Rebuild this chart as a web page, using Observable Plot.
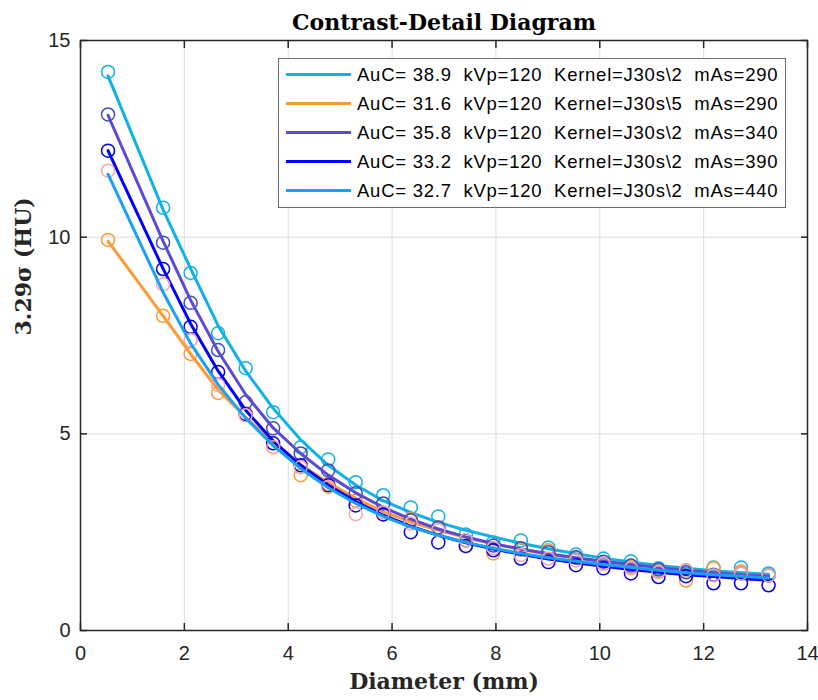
<!DOCTYPE html>
<html><head><meta charset="utf-8">
<script src="https://cdn.jsdelivr.net/npm/d3@7"></script>
<script src="https://cdn.jsdelivr.net/npm/@observablehq/plot@0.6"></script>
<style>
body{margin:0;background:#fff;}
#wrap{position:relative;width:818px;height:700px;}
#legend{position:absolute;left:278px;top:58px;width:506px;height:148px;border:1.5px solid #6e6e6e;background:#fff;font-family:"Liberation Sans",Arial,sans-serif;font-size:18.5px;letter-spacing:0.75px;color:#000;}
.row{position:absolute;left:0;height:29px;display:flex;align-items:center;white-space:pre;}
.sw{width:65px;height:3px;margin-left:7px;margin-right:6px;}
</style></head>
<body><div id="wrap"></div>
<script>
// Data
const diameters = [0.53,1.59,2.12,2.65,3.18,3.71,4.24,4.77,5.30,5.83,6.36,6.89,7.42,7.95,8.48,9.01,9.54,10.07,10.60,11.13,11.66,12.19,12.72,13.25];
const seriesLabels = [
  "AuC= 38.9  kVp=120  Kernel=J30s\\2  mAs=290",
  "AuC= 31.6  kVp=120  Kernel=J30s\\5  mAs=290",
  "AuC= 35.8  kVp=120  Kernel=J30s\\2  mAs=340",
  "AuC= 33.2  kVp=120  Kernel=J30s\\2  mAs=390",
  "AuC= 32.7  kVp=120  Kernel=J30s\\2  mAs=440"
];
const meas290 = [14.2,10.75,9.09,7.56,6.67,5.55,4.66,4.35,3.77,3.44,3.13,2.90,2.44,2.24,2.29,2.11,1.93,1.83,1.76,1.58,1.53,1.60,1.60,1.45];
const fit290  = [14.1,10.7,9.2,7.75,6.6,5.65,4.85,4.2,3.7,3.3,3.0,2.75,2.55,2.38,2.22,2.08,1.95,1.84,1.74,1.65,1.58,1.52,1.47,1.43];
const meas290k5 = [9.93,8.0,7.03,6.04,5.52,4.66,3.95,3.72,3.3,2.95,2.83,2.62,2.14,1.96,2.05,2.04,1.85,1.70,1.60,1.50,1.27,1.58,1.50,1.40];
const fit290k5  = [9.9,8.0,7.03,6.12,5.42,4.78,4.22,3.76,3.36,3.02,2.76,2.55,2.36,2.2,2.06,1.94,1.84,1.75,1.67,1.6,1.53,1.47,1.42,1.38];
const meas340 = [13.12,9.86,8.33,7.13,5.8,5.14,4.5,4.07,3.49,3.23,2.8,2.62,2.29,2.16,2.09,1.99,1.86,1.75,1.65,1.55,1.48,1.42,1.45,1.40];
const fit340  = [13.1,9.9,8.4,7.1,6.0,5.15,4.5,3.95,3.5,3.13,2.83,2.58,2.38,2.21,2.07,1.95,1.85,1.76,1.68,1.6,1.53,1.47,1.42,1.38];
const meas390 = [12.2,9.19,7.72,6.57,5.5,4.76,4.2,3.69,3.18,2.95,2.5,2.24,2.15,2.04,1.83,1.74,1.66,1.58,1.45,1.36,1.38,1.20,1.20,1.15];
const fit390  = [12.2,9.2,7.8,6.6,5.6,4.82,4.2,3.7,3.28,2.93,2.65,2.42,2.23,2.07,1.94,1.82,1.72,1.63,1.55,1.48,1.42,1.37,1.32,1.28];
const meas440 = [11.69,8.8,7.38,6.24,5.47,4.66,4.15,3.65,2.96,3.0,2.72,2.55,2.3,2.1,1.92,1.83,1.78,1.70,1.58,1.48,1.53,1.40,1.45,1.40];
const fit440  = [11.6,8.6,7.3,6.25,5.4,4.7,4.12,3.63,3.23,2.9,2.63,2.42,2.24,2.09,1.96,1.85,1.76,1.68,1.6,1.53,1.47,1.42,1.38,1.33];
const xTicks = [0,2,4,6,8,10,12,14];
const yTicks = [0,5,10,15];
const titleText = "Contrast-Detail Diagram";
const xLabel = "Diameter (mm)";
const yLabel = "3.29σ (HU)";

// Styles
const lineColors = ["#10b2e6","#ff9933","#5a4bd6","#0000ff","#18a2f4"];
const markerColors = ["#10b2e6","#ff9933","#3f4fb8","#0000ee","#f6a6a8"];

const measured = [meas290, meas290k5, meas340, meas390, meas440];
const fitted = [fit290, fit290k5, fit340, fit390, fit440];
const rows = ys => diameters.map((d, i) => ({d, v: ys[i]}));

const seriesMarks = [];
measured.forEach((m, i) => {
  seriesMarks.push(Plot.dot(rows(m), {x: "d", y: "v", r: 6.5, stroke: markerColors[i], strokeWidth: 1.5, fill: "none"}));
  seriesMarks.push(Plot.line(rows(fitted[i]), {x: "d", y: "v", stroke: lineColors[i], strokeWidth: 3}));
});

const serif = "'DejaVu Serif', serif";
const chart = Plot.plot({
  width: 818, height: 700,
  marginLeft: 80, marginRight: 11, marginTop: 40, marginBottom: 70,
  style: {fontFamily: "'Liberation Sans Narrow','Arial Narrow','Liberation Sans',sans-serif", fontSize: "20px", color: "#262626", background: "#fff"},
  x: {domain: [0, 14]},
  y: {domain: [0, 15]},
  marks: [
    Plot.gridX(xTicks, {stroke: "#dcdcdc", strokeOpacity: 1}),
    Plot.gridY(yTicks, {stroke: "#dcdcdc", strokeOpacity: 1}),
    ...seriesMarks,
    Plot.frame({stroke: "#262626", strokeWidth: 1.5}),
    Plot.axisX(xTicks, {anchor: "bottom", tickSize: -7, tickPadding: 22, label: null, strokeWidth: 1.5}),
    Plot.axisX(xTicks, {anchor: "top", tickSize: -7, tickFormat: () => "", label: null, strokeWidth: 1.5}),
    Plot.axisY(yTicks, {anchor: "left", tickSize: -7, tickPadding: 17, label: null, strokeWidth: 1.5}),
    Plot.axisY(yTicks, {anchor: "right", tickSize: -7, tickFormat: () => "", label: null, strokeWidth: 1.5}),
    Plot.text([titleText], {frameAnchor: "top", dy: -26, fontFamily: serif, fontWeight: "bold", fontSize: 22, fill: "#000"}),
    Plot.text([xLabel], {frameAnchor: "bottom", dy: 58, fontFamily: serif, fontWeight: "bold", fontSize: 22, fill: "#262626"}),
    Plot.text([yLabel], {frameAnchor: "left", dx: -57, rotate: -90, fontFamily: serif, fontWeight: "bold", fontSize: 22, fill: "#262626"})
  ]
});
const wrap = document.getElementById("wrap");
wrap.appendChild(chart);

// Legend overlay inside the axes
const legend = document.createElement("div");
legend.id = "legend";
seriesLabels.forEach((lab, i) => {
  const row = document.createElement("div");
  row.className = "row";
  row.style.top = (1 + i * 29) + "px";
  const sw = document.createElement("div");
  sw.className = "sw";
  sw.style.background = lineColors[i];
  const t = document.createElement("span");
  t.textContent = lab;
  row.appendChild(sw); row.appendChild(t);
  legend.appendChild(row);
});
wrap.appendChild(legend);
</script>
</body></html>
